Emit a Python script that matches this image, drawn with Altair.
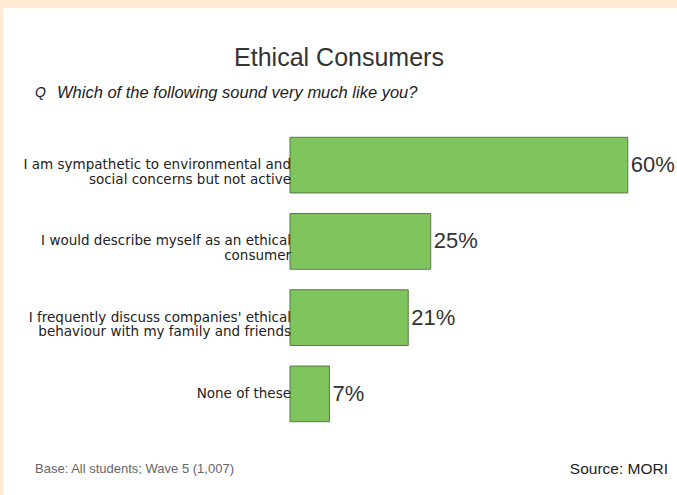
import altair as alt
import pandas as pd

categories = [
    "I am sympathetic to environmental and\nsocial concerns but not active",
    "I would describe myself as an ethical\nconsumer",
    "I frequently discuss companies' ethical\nbehaviour with my family and friends",
    "None of these",
]
values = [60, 25, 21, 7]
value_labels = ["60%", "25%", "21%", "7%"]

title_text = "Ethical Consumers"
question_mark = "Q"
question_text = "Which of the following sound very much like you?"
base_text = "Base: All students; Wave 5 (1,007)"
source_text = "Source: MORI"

df = pd.DataFrame({"cat": categories, "value": values, "label": value_labels})

# plot origin is at (290, 127) in the page
OX, OY = 290, 127
W, H = 380, 305

y_enc = alt.Y("cat:N", sort=None, axis=None,
              scale=alt.Scale(paddingInner=0.27, paddingOuter=0.135))
x_scale = alt.Scale(domain=[0, 67.5], nice=False, zero=True)

white_bg = alt.Chart(pd.DataFrame({"a": [0]})).mark_rect(color="white").encode(
    x=alt.value(3 - OX), x2=alt.value(677 - OX),
    y=alt.value(8 - OY), y2=alt.value(495 - OY),
)

bars = alt.Chart(df).mark_bar(color="#80C45E", stroke="#557a45", strokeWidth=1).encode(
    x=alt.X("value:Q", scale=x_scale, axis=None),
    y=y_enc,
)

pct = alt.Chart(df).mark_text(
    align="left", baseline="middle", dx=3, font="Liberation Sans", fontSize=22, color="#333333"
).encode(
    x=alt.X("value:Q", scale=x_scale, axis=None),
    y=y_enc,
    text="label:N",
)

cat_labels = alt.Chart(df).mark_text(
    align="right", baseline="middle", dx=1, lineBreak="\n", lineHeight=14.5,
    font="DejaVu Sans", fontSize=13.5, color="#222222",
).encode(
    x=alt.value(0),
    y=y_enc,
    text="cat:N",
)

def note(text, x, y, **kw):
    return alt.Chart(pd.DataFrame({"t": [text]})).mark_text(**kw).encode(
        x=alt.value(x - OX), y=alt.value(y - OY), text="t:N"
    )

title = note(title_text, 339, 58, align="center", baseline="middle",
             font="Liberation Sans", fontSize=25, color="#333333")
q = note(question_mark, 35, 93, align="left", baseline="middle",
         font="Liberation Sans", fontSize=14, fontStyle="italic", color="#222222")
qt = note(question_text, 57, 93, align="left", baseline="middle",
          font="Liberation Sans", fontSize=16.5, fontStyle="italic", color="#222222")
base = note(base_text, 35, 469, align="left", baseline="middle",
            font="Liberation Sans", fontSize=13, color="#666666")
source = note(source_text, 668, 469, align="right", baseline="middle",
              font="Liberation Sans", fontSize=15.5, color="#222222")

chart = alt.layer(white_bg, bars, pct, cat_labels, title, q, qt, base, source).properties(
    width=W, height=H,
    autosize=alt.AutoSizeParams(type="none"),
    padding={"left": OX, "top": OY, "right": 677 - OX - W, "bottom": 495 - OY - H},
    background="#FFEBD2",
).configure_view(stroke=None)

chart.save("out.html", embed_options={"renderer": "svg", "actions": False})
